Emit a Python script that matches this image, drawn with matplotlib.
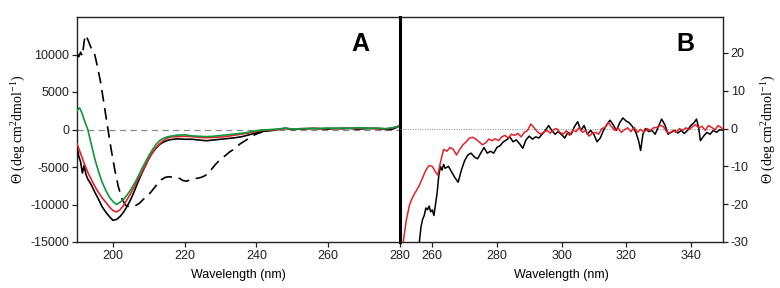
import matplotlib
matplotlib.use("Agg")
import matplotlib.pyplot as plt

plt.rcParams['font.family'] = ['Liberation Sans', 'DejaVu Sans']
plt.rcParams['mathtext.fontset'] = 'custom'
plt.rcParams['mathtext.rm'] = 'Liberation Serif'
plt.rcParams['mathtext.it'] = 'Liberation Serif:italic'
plt.rcParams['axes.unicode_minus'] = False

# ---------------- Panel A (far-UV) ----------------
wl_black = [190, 190.5, 191, 191.5, 192, 192.5, 193, 194, 195, 196, 197, 198, 199, 200, 201, 202, 203,
            204, 205, 206, 207, 208, 209, 210, 211, 212, 213, 214, 215, 216, 218, 220, 222, 224, 226, 228,
            230, 232, 234, 236, 238, 240, 242, 244, 246, 248, 250, 252, 254, 256, 258, 260, 262, 264, 266,
            268, 270, 272, 274, 276, 278, 280]
val_black = [-2300, -3600, -4300, -5800, -4800, -6000, -6600, -7400, -8400, -9300, -10300, -11000, -11600,
             -12100, -12000, -11600, -11000, -10200, -9300, -8200, -7000, -5900, -4900, -3900, -3100, -2500,
             -2000, -1700, -1500, -1350, -1250, -1300, -1300, -1400, -1500, -1400, -1300, -1200, -1100, -950,
             -700, -450, -250, -150, 0, 150, 0, 50, 100, 150, 100, 50, 150, 100, 150, 50, 100, 150, 100, 0, 50, 500]

wl_red = [190, 191, 192, 193, 194, 195, 196, 197, 198, 199, 200, 201, 202, 203, 204, 205, 206, 207, 208,
          209, 210, 211, 212, 213, 214, 215, 216, 218, 220, 222, 224, 226, 228, 230, 232, 234, 236, 238,
          240, 242, 244, 246, 248, 250, 252, 254, 256, 258, 260, 262, 264, 266, 268, 270, 272, 274, 276, 278, 280]
val_red = [-1900, -3200, -4500, -5700, -6700, -7600, -8400, -9100, -9700, -10300, -10800, -11000, -10700,
           -10100, -9300, -8500, -7600, -6600, -5800, -4800, -3900, -3100, -2400, -1900, -1500, -1200, -1000,
           -950, -900, -950, -1050, -1100, -1050, -1000, -900, -750, -600, -450, -250, -100, -50, 0, 150, 50,
           100, 100, 150, 100, 150, 100, 150, 200, 150, 200, 150, 100, 100, 200, 500]

wl_green = [190, 190.7, 191.3, 192, 193, 194, 195, 196, 197, 198, 199, 200, 201, 202, 203, 204, 205, 206,
            207, 208, 209, 210, 211, 212, 213, 214, 215, 216, 218, 220, 222, 224, 226, 228, 230, 232, 234,
            236, 238, 240, 242, 244, 246, 248, 250, 252, 254, 256, 258, 260, 262, 264, 266, 268, 270, 272,
            274, 276, 278, 280]
val_green = [2500, 2900, 2300, 1300, 0, -2000, -4000, -5600, -7000, -8100, -9000, -9600, -10000, -9700,
             -9300, -8700, -8000, -7200, -6300, -5300, -4400, -3500, -2700, -2000, -1500, -1200, -1000, -900,
             -750, -700, -850, -900, -950, -900, -800, -700, -600, -500, -350, -150, -50, 0, 50, 200, 50, 100,
             150, 100, 150, 200, 150, 200, 150, 250, 200, 150, 200, 100, 250, 500]

wl_dash = [190, 190.5, 191, 191.5, 192, 192.4, 193, 194, 194.8, 195.5, 196.5, 197.5, 198.5, 199.5, 200.5,
           201.5, 202.5, 203.5, 204.5, 205.5, 206.5, 207.5, 208.5, 209.5, 210.5, 211.5, 212.5, 213.5, 214.5,
           215.5, 216.5, 217.5, 218.5, 219.5, 220.5, 221.5, 222.5, 223.5, 224.5, 225.5, 226.5, 227.5, 228.5,
           229.5, 230.5, 231.5, 232.5, 233.5, 234.5, 235.5, 236.5, 237.5, 238.5, 239.5, 240.5, 241.5]
val_dash = [10100, 9700, 10300, 9800, 11800, 12600, 12000, 10800, 10300, 8800, 6500, 3500, 400, -2600,
            -5300, -7600, -9200, -10100, -10300, -10200, -10100, -9800, -9300, -8900, -8400, -7800, -7200,
            -6700, -6400, -6300, -6350, -6400, -6500, -6800, -6900, -6700, -6600, -6500, -6400, -6200, -5900,
            -5300, -4700, -4200, -3800, -3400, -3000, -2700, -2300, -1900, -1600, -1300, -1000, -700, -500, -350]

# ---------------- Panel B (near-UV) ----------------
wl_b_red = [251, 252, 253, 254, 255, 256, 257, 258, 259, 260, 261, 261.7, 262.5, 263.5, 264.5, 265.5, 266.5,
            267.5, 268.5, 269.5, 270.5, 271.5, 272.5, 273.5, 274.5, 275.5, 276.5, 277.5, 278.5, 279.5, 280.5,
            281.5, 282.5, 283.5, 284.5, 285.5, 286.5, 287.5, 288.5, 289.5, 290.5, 291.5, 292.5, 293.5, 294.5,
            295.5, 296.5, 297.5, 298.5, 299.5, 300.5, 301.5, 302.5, 303.5, 304.5, 305.5, 306.5, 307.5, 308.5,
            309.5, 310.5, 311.5, 312.5, 313.5, 314.5, 315.5, 316.5, 317.5, 318.5, 319.5, 320.5, 321.5, 322.5,
            323.5, 324.5, 325.5, 326.5, 327.5, 328.5, 329.5, 330.5, 331.5, 332.5, 333.5, 334.5, 335.5, 336.5,
            337.5, 338.5, 339.5, 340.5, 341.5, 342.5, 343.5, 344.5, 345.5, 346.5, 347.5, 348.5, 349.5, 350]
val_b_red = [-30, -24, -20, -18, -16.5, -15, -13, -11, -9.8, -10, -11.5, -12.3, -9, -5.5, -6, -5, -5.5, -7,
             -5.5, -4.3, -3.5, -2.5, -2.3, -2.8, -3.5, -4.3, -3.8, -2.8, -3.2, -2.7, -3.2, -2.2, -1.8, -2.5,
             -1.5, -1.8, -1.3, -2.2, -1, -0.5, 1.2, 0.2, -0.8, -1.5, -1, -0.5, -1.2, -0.3, 0, -1, -1.5, -0.6,
             -1.8, -0.4, -0.8, 0.3, -1, -0.5, -2, -1.3, -1, -1.5, 0, 0.3, 1.6, 0.5, -0.5, 0.2, -1, -0.3, 0.2,
             -0.8, 0.3, -1, -0.2, -1, 0, -0.5, 0.2, 0.3, 0.8, 0.6, -0.8, -1.2, -0.5, -1, 0, -0.5, 0.2, -0.3,
             0.5, 1, 0.2, 0.6, -0.5, 0.8, 0.3, -0.3, 0.8, 0.2, -0.3]

wl_b_black = [256, 256.5, 257, 257.5, 258, 258.5, 259, 259.5, 260, 260.5, 261, 261.5, 262, 262.5, 263,
              263.5, 264, 265, 266, 267, 268, 269, 270, 271, 272, 273, 274, 275, 276, 277, 278, 279, 280,
              281, 282, 283, 284, 285, 286, 287, 288, 289, 290, 291, 292, 293, 294, 295, 296, 297, 298, 299,
              300, 301, 302, 303, 304, 305, 306, 307, 308, 309, 310, 311, 312, 313, 314, 315, 316, 317, 318,
              319, 320, 321, 322, 323, 323.8, 324.5, 325.2, 326, 327, 328, 329, 330, 331, 332, 333, 334, 335,
              336, 337, 338, 339, 340, 341, 341.8, 342.5, 343, 344, 345, 346, 347, 348, 349, 350]
val_b_black = [-30, -26, -24, -23, -21, -21.5, -20.5, -22, -21.5, -23, -20, -17, -12.5, -10, -11, -9.5,
               -10.5, -10, -11.5, -13, -14.2, -11, -8.5, -7, -6.5, -7.5, -8, -6.5, -5, -6.5, -6, -6.5, -5,
               -4.5, -3.5, -3, -2.2, -3.5, -3, -4, -5.2, -3, -2, -2.8, -2.2, -2.5, -1.5, -0.5, 0.8, -0.5,
               -1.5, -0.8, -1.6, -2.5, -1, -1.5, 0.5, 1.8, -0.5, 0.8, -1.5, -0.5, -1.5, -3.5, -2.5, -0.5, 1,
               2.2, 1, -0.5, 1.5, 2.8, 2, 1.5, 0.5, -1, -3, -5.8, -1.5, 0, -0.8, -0.5, -1.5, 0.5, 2.5, 1,
               -1.5, -1, -0.5, -1.2, -0.5, -1.3, -0.5, 0.8, 1.5, 2.5, 0, -3.2, -2, -1, -1.5, -0.5, -1, -0.3, -0.5]

xticks_a = [200, 220, 240, 260, 280]
yticks_a = [-15000, -10000, -5000, 0, 5000, 10000]
xticks_b = [260, 280, 300, 320, 340]
yticks_b = [-30, -20, -10, 0, 10, 20]

ylabel = r'Θ (deg cm$^{2}$dmol$^{-1}$)'

fig = plt.figure(figsize=(7.8, 2.88), dpi=100)
W, H = 780, 288
axA = fig.add_axes([77 / W, (H - 242) / H, 323 / W, 225 / H])
axB = fig.add_axes([400 / W, (H - 242) / H, 323 / W, 225 / H])
axB.patch.set_visible(False)

spine_col = '#222222'
for ax in (axA, axB):
    for s in ax.spines.values():
        s.set_color(spine_col)
        s.set_linewidth(1.0)
    ax.tick_params(direction='out', length=3.5, width=0.9, labelsize=9, colors='#222222', pad=2)

# Panel A
axA.axhline(0, color='#888888', lw=0.9, dashes=(5, 3.5), zorder=1)
axA.plot(wl_dash, val_dash, color='black', lw=1.2, dashes=(7, 4), zorder=3)
axA.plot(wl_black, val_black, color='black', lw=1.2, zorder=3)
axA.plot(wl_red, val_red, color='#e8202a', lw=1.2, zorder=4)
axA.plot(wl_green, val_green, color='#0a9a3c', lw=1.2, zorder=5)
axA.set_xlim(190, 280)
axA.set_ylim(-15000, 15000)
axA.set_xticks(xticks_a)
axA.set_yticks(yticks_a)
axA.spines['right'].set_linewidth(2.2)
axA.spines['right'].set_color('black')
axA.spines['right'].set_zorder(10)
axA.set_xlabel('Wavelength (nm)', fontsize=9, labelpad=5)
axA.set_ylabel(ylabel, fontsize=10, family='Liberation Serif', labelpad=2)
fig.text(360 / W, 1 - 44 / H, 'A', fontsize=18, fontweight='bold', ha='center', va='center')

# Panel B
axB.axhline(0, color='#888888', lw=0.7, ls=(0, (1, 1.5)), zorder=1)
axB.plot(wl_b_black, val_b_black, color='black', lw=1.1, zorder=3)
axB.plot(wl_b_red, val_b_red, color='#e8202a', lw=1.1, zorder=4)
axB.set_xlim(250, 350)
axB.set_ylim(-30, 29.5)
axB.set_xticks(xticks_b)
axB.set_yticks(yticks_b)
axB.spines['left'].set_visible(False)
axB.yaxis.tick_right()
axB.yaxis.set_label_position('right')
axB.set_xlabel('Wavelength (nm)', fontsize=9, labelpad=5)
axB.set_ylabel(ylabel, fontsize=10, family='Liberation Serif', labelpad=8)
fig.text(685 / W, 1 - 44 / H, 'B', fontsize=18, fontweight='bold', ha='center', va='center')

fig.savefig('out.png', dpi=100)
